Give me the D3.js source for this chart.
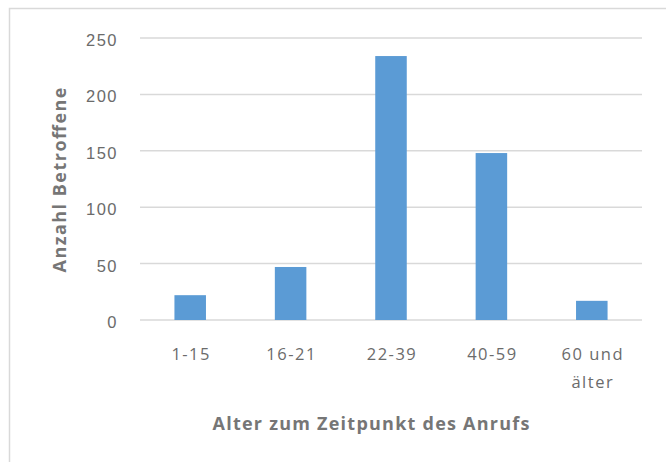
<!DOCTYPE html>
<html>
<head>
<meta charset="utf-8">
<script src="https://cdn.jsdelivr.net/npm/d3@7"></script>
<style>
  body { margin: 0; background: #fff; }
  svg { display: block; font-family: "Open Sans", sans-serif; }
</style>
</head>
<body>
<svg></svg>
<script>
// chart values
const categories = ['1-15', '16-21', '22-39', '40-59', '60 und\nälter'];
const counts = [22, 47, 234, 148, 17];
const yTicks = [0, 50, 100, 150, 200, 250];

const size = {w: 666, h: 462};
const margin = {t: 38, r: 24, b: 142, l: 140};
const svg = d3.select('svg')
    .attr('width', size.w)
    .attr('height', size.h);

// outer chart frame (bottom/right run off the picture)
svg.append('rect')
    .attr('x', 9.5).attr('y', 8.5)
    .attr('width', 700).attr('height', 500)
    .attr('fill', 'none')
    .attr('stroke', '#d9d9d9')
    .attr('stroke-width', 1.5);

const plotW = 502, plotH = 282;

let x = d3.scaleBand()
    .domain(categories)
    .range([margin.l, margin.l + plotW])
    .paddingInner(0.686)
    .paddingOuter(0.343);

let y = d3.scaleLinear()
    .domain([0, 250])
    .range([margin.t + plotH, margin.t]);

// gridlines
svg.append('g')
    .selectAll('line')
    .data(yTicks)
    .enter()
    .append('line')
    .attr('x1', margin.l)
    .attr('x2', margin.l + plotW)
    .attr('y1', d => y(d))
    .attr('y2', d => y(d))
    .attr('stroke', '#d9d9d9')
    .attr('stroke-width', 1.5);

// bars
svg.append('g')
    .selectAll('rect')
    .data(counts)
    .enter()
    .append('rect')
    .attr('x', (d, i) => x(categories[i]))
    .attr('width', x.bandwidth())
    .attr('y', d => y(d))
    .attr('height', d => y(0) - y(d))
    .attr('fill', '#5b9bd5');

// y axis labels
let yAxis = d3.axisLeft(y).tickValues(yTicks).tickSize(0).tickPadding(22);
let yg = svg.append('g')
    .attr('transform', `translate(${margin.l},0)`)
    .call(yAxis);
yg.select('.domain').remove();
yg.selectAll('text')
    .attr('fill', '#6b6b6b')
    .attr('dy', '0.45em')
    .style('font-size', '16.5px')
    .style('letter-spacing', '1.5px');

// x axis labels (can wrap on two lines)
let xg = svg.append('g')
    .selectAll('text')
    .data(categories)
    .enter()
    .append('text')
    .attr('x', d => x(d) + x.bandwidth() / 2 + 1)
    .attr('y', 360)
    .attr('text-anchor', 'middle')
    .attr('fill', '#6b6b6b')
    .style('font-size', '16.5px')
    .style('letter-spacing', '1.5px');
xg.selectAll('tspan')
    .data(d => d.split('\n'))
    .enter()
    .append('tspan')
    .attr('x', function () { return d3.select(this.parentNode).attr('x'); })
    .attr('dy', (d, i) => i === 0 ? 0 : 28)
    .text(d => d);

// axis titles
svg.append('text')
    .attr('x', 371)
    .attr('y', 430)
    .attr('text-anchor', 'middle')
    .attr('fill', '#767676')
    .attr('textLength', 317)
    .attr('lengthAdjust', 'spacing')
    .style('font-size', '18px')
    .style('font-weight', 'bold')
    .text('Alter zum Zeitpunkt des Anrufs');

svg.append('text')
    .attr('transform', 'translate(66,180) rotate(-90)')
    .attr('text-anchor', 'middle')
    .attr('fill', '#767676')
    .attr('textLength', 185)
    .attr('lengthAdjust', 'spacing')
    .style('font-size', '18px')
    .style('font-weight', 'bold')
    .text('Anzahl Betroffene');
</script>
</body>
</html>
